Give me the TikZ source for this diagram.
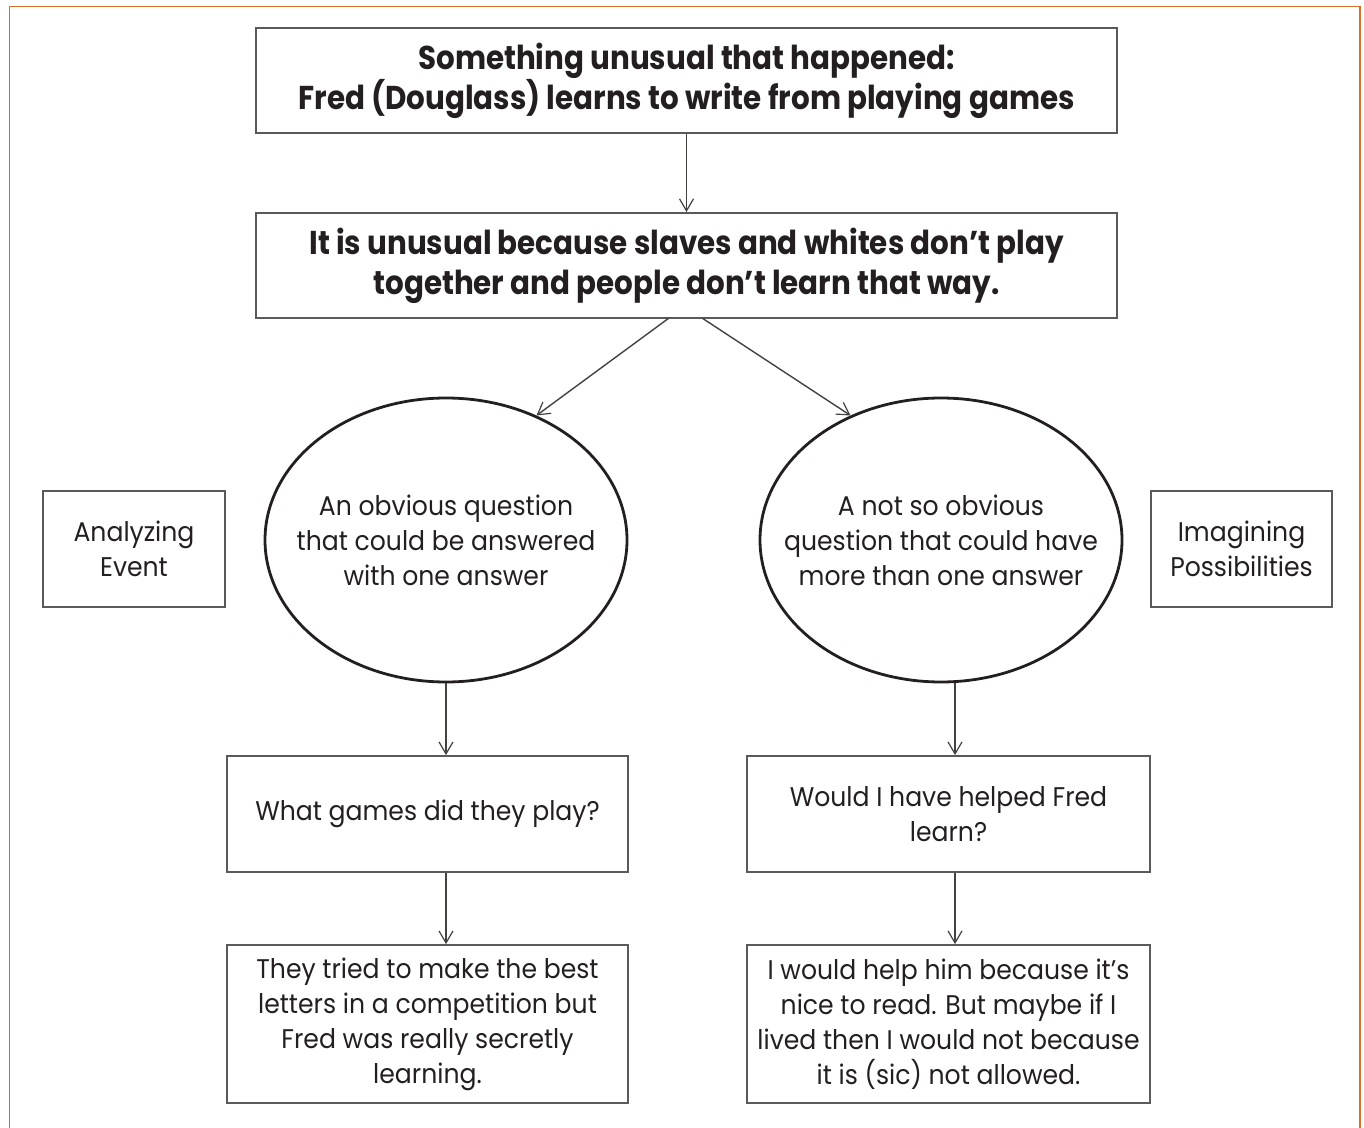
\documentclass[tikz,border=0pt]{standalone}
\usepackage{fontspec}
\setmainfont{Poppins}[FakeStretch=0.93,BoldFeatures={FakeStretch=0.89}]
\usetikzlibrary{arrows.meta,shapes.geometric}

\definecolor{frameorange}{HTML}{D4702A}
\definecolor{boxgray}{HTML}{5A5A5A}
\definecolor{inkdark}{HTML}{231F20}

\begin{document}
\begin{tikzpicture}[
  x=0.5pt,
  y=-0.5pt,
  line join=miter,
  every node/.style={text=inkdark,align=center,inner sep=0pt},
  headbox/.style={draw=boxgray,line width=1pt,minimum width=430.5pt,minimum height=52.5pt,
    font=\fontsize{16.5}{20}\selectfont\bfseries},
  qbox/.style={draw=boxgray,line width=0.9pt,font=\fontsize{13.5}{17.5}\selectfont},
  qoval/.style={ellipse,draw=inkdark,line width=1.4pt,minimum width=181pt,minimum height=142pt},
  qtext/.style={font=\fontsize{13.5}{17.5}\selectfont},
  link/.style={draw=inkdark!85,line width=0.7pt,-{Straight Barb[length=6pt,width=7pt,line width=0.6pt]}}
]
  % Keep the page the size of the reference artwork.
  \useasboundingbox (0,0) rectangle (1364,1128);

  % Orange page frame, open at the bottom.
  \draw[frameorange,line width=0.8pt] (9.5,1130) -- (9.5,6.5) -- (1360,6.5) -- (1360,1130);

  % Top two statement boxes.
  \node[headbox] (event) at (686.5,80.5)
    {Something unusual that happened:\\Fred (Douglass) learns to write from playing games};
  \node[headbox] (reason) at (686.5,265.5)
    {It is unusual because slaves and whites don't play\\together and people don't learn that way.};

  % The two kinds of question (text as a centre label so it does not grow the oval).
  \node[qoval,label={[qtext]center:An obvious question\\that could be answered\\with one answer}]
    (obvious) at (446,540) {};
  \node[qoval,label={[qtext]center:A not so obvious\\question that could have\\more than one answer}]
    (notobvious) at (941,540) {};

  % Side labels.
  \node[qbox,minimum width=91pt,minimum height=58pt] (analyzing) at (134,549) {Analyzing\\Event};
  \node[qbox,minimum width=90.5pt,minimum height=58pt] (imagining) at (1241.5,549) {Imagining\\Possibilities};

  % Questions and answers.
  \node[qbox,minimum width=200.5pt,minimum height=58pt] (games) at (427.5,814) {What games did they play?};
  \node[qbox,minimum width=201.5pt,minimum height=58pt] (helped) at (948.5,814) {Would I have helped Fred\\learn?};
  \node[qbox,minimum width=200.5pt,minimum height=79pt] (letters) at (427.5,1024)
    {They tried to make the best\\letters in a competition but\\Fred was really secretly\\learning.};
  \node[qbox,minimum width=201.5pt,minimum height=79pt] (nice) at (948.5,1024)
    {I would help him because it’s\\nice to read. But maybe if I\\lived then I would not because\\it is (sic) not allowed.};

  % Split points on the second box.
  \coordinate (reasonLeft) at (669,318);
  \coordinate (reasonRight) at (702,318);

  % Connectors.
  \draw[link] (event) -- (reason);
  \draw[link] (reasonLeft) -- (obvious.54);
  \draw[link] (reasonRight) -- (notobvious.126);
  \draw[link] (obvious.south) -- (obvious.south |- games.north);
  \draw[link] ([xshift=7pt]notobvious.south) -- ([xshift=7pt]notobvious.south |- helped.north);
  \draw[link] (obvious.south |- games.south) -- (obvious.south |- letters.north);
  \draw[link] ([xshift=7pt]notobvious.south |- helped.south) -- ([xshift=7pt]notobvious.south |- nice.north);
\end{tikzpicture}
\end{document}
